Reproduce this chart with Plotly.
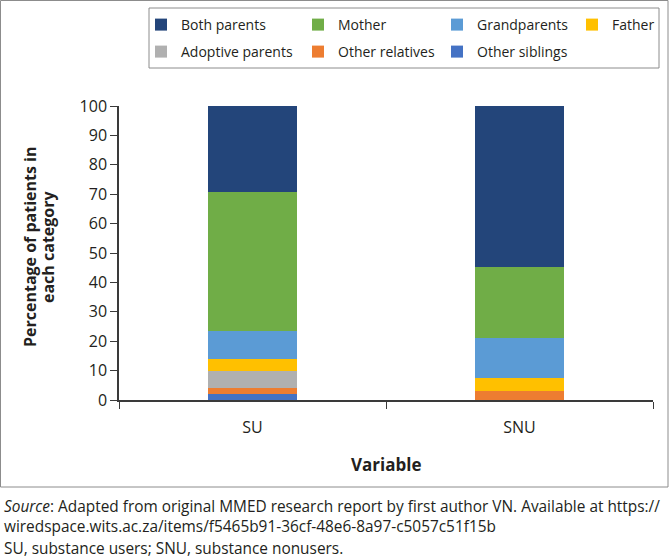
import plotly.graph_objects as go

# categories and stacked series (% of patients), bottom of stack first
groups = ['SU', 'SNU']
other_siblings = [2.0, 0.0]
other_relatives = [2.0, 2.9]
adoptive_parents = [5.9, 0.0]
father = [4.0, 4.7]
grandparents = [9.7, 13.6]
mother = [47.1, 24.1]
both_parents = [29.3, 54.7]

y_ticks = list(range(0, 101, 10))

#series name, values, colour, which legend row, legend entry width
series = [
    ('Other siblings', other_siblings, '#4472C4', 'legend2', 95),
    ('Other relatives', other_relatives, '#ED7D31', 'legend2', 94),
    ('Adoptive parents', adoptive_parents, '#B0B0B0', 'legend2', 112),
    ('Father', father, '#FFC000', 'legend', 50),
    ('Grandparents', grandparents, '#5B9BD5', 'legend', 90),
    ('Mother', mother, '#70AD47', 'legend', 94),
    ('Both parents', both_parents, '#23457A', 'legend', 112),
]

W, H = 670, 560
L, R, T, B = 119, 17, 106, 160
pw, ph = W - L - R, H - T - B


def px_x(x):
    return (x - L) / pw


def px_y(y):
    return (H - B - y) / ph


FONT = 'Open Sans'
TXT = '#231F20'

fig = go.Figure()
for name, vals, color, leg, lw in series:
    fig.add_trace(go.Bar(
        x=groups, y=vals, name=name,
        marker=dict(color=color, line=dict(width=0)),
        legend=leg, legendwidth=lw,
    ))

legend_common = dict(
    orientation='h', traceorder='reversed',
    font=dict(family=FONT, size=14, color=TXT),
    bgcolor='rgba(0,0,0,0)', borderwidth=0,
    xanchor='left', yanchor='middle',
    itemclick=False, itemdoubleclick=False,
)

fig.update_layout(
    width=W, height=H,
    margin=dict(l=L, r=R, t=T, b=B, autoexpand=False),
    barmode='stack', bargap=0.667,
    plot_bgcolor='white', paper_bgcolor='white',
    font=dict(family=FONT, color=TXT),
    showlegend=True,
    legend=dict(legend_common, x=px_x(141), y=px_y(25)),
    legend2=dict(legend_common, x=px_x(141), y=px_y(52)),
    xaxis=dict(
        showline=True, linecolor='#3A3A3A', linewidth=1.5,
        ticks='outside', tickson='boundaries', ticklen=7, tickcolor='#3A3A3A',
        tickfont=dict(family=FONT, size=16, color=TXT),
        ticklabelstandoff=12,
        showgrid=False,
    ),
    yaxis=dict(
        range=[0, 100], tickvals=y_ticks,
        showline=True, linecolor='#3A3A3A', linewidth=1.5,
        ticks='outside', ticklen=7, tickcolor='#3A3A3A',
        tickfont=dict(family=FONT, size=16, color=TXT),
        showgrid=False, zeroline=False,
    ),
)

#outer frame and legend box
fig.add_shape(type='rect', xref='paper', yref='paper',
              x0=px_x(0.5), x1=px_x(668), y0=px_y(487), y1=px_y(0.5),
              line=dict(color='#8C8C8C', width=1), fillcolor='rgba(0,0,0,0)', layer='below')
fig.add_shape(type='rect', xref='paper', yref='paper',
              x0=px_x(149), x1=px_x(659), y0=px_y(68), y1=px_y(8),
              line=dict(color='#8C8C8C', width=1), fillcolor='rgba(0,0,0,0)', layer='below')

#y axis title, two lines placed separately
for txt, xpos in [('Percentage of patients in', 30), ('each category', 48)]:
    fig.add_annotation(text=f'<b>{txt}</b>',
                       xref='paper', yref='paper', x=px_x(xpos), y=px_y(247),
                       xanchor='center', yanchor='middle',
                       textangle=-90, showarrow=False,
                       font=dict(family=FONT, size=16, color=TXT))
fig.add_annotation(text='<b>Variable</b>',
                   xref='paper', yref='paper', x=0.5, y=px_y(464), yanchor='middle',
                   showarrow=False, font=dict(family=FONT, size=17, color=TXT))

#footer
footer = [
    ('<i>Source</i>: Adapted from original MMED research report by first author VN. Available at https://', 506),
    ('wiredspace.wits.ac.za/items/f5465b91-36cf-48e6-8a97-c5057c51f15b', 526),
    ('SU, substance users; SNU, substance nonusers.', 548),
]
for txt, ypos in footer:
    fig.add_annotation(text=txt, xref='paper', yref='paper',
                       x=px_x(2), y=px_y(ypos), xanchor='left', yanchor='middle',
                       showarrow=False, font=dict(family=FONT, size=15.4, color=TXT))

fig.write_html("out.html", config={'displayModeBar': False},
               post_script="document.body.style.margin='0';")
